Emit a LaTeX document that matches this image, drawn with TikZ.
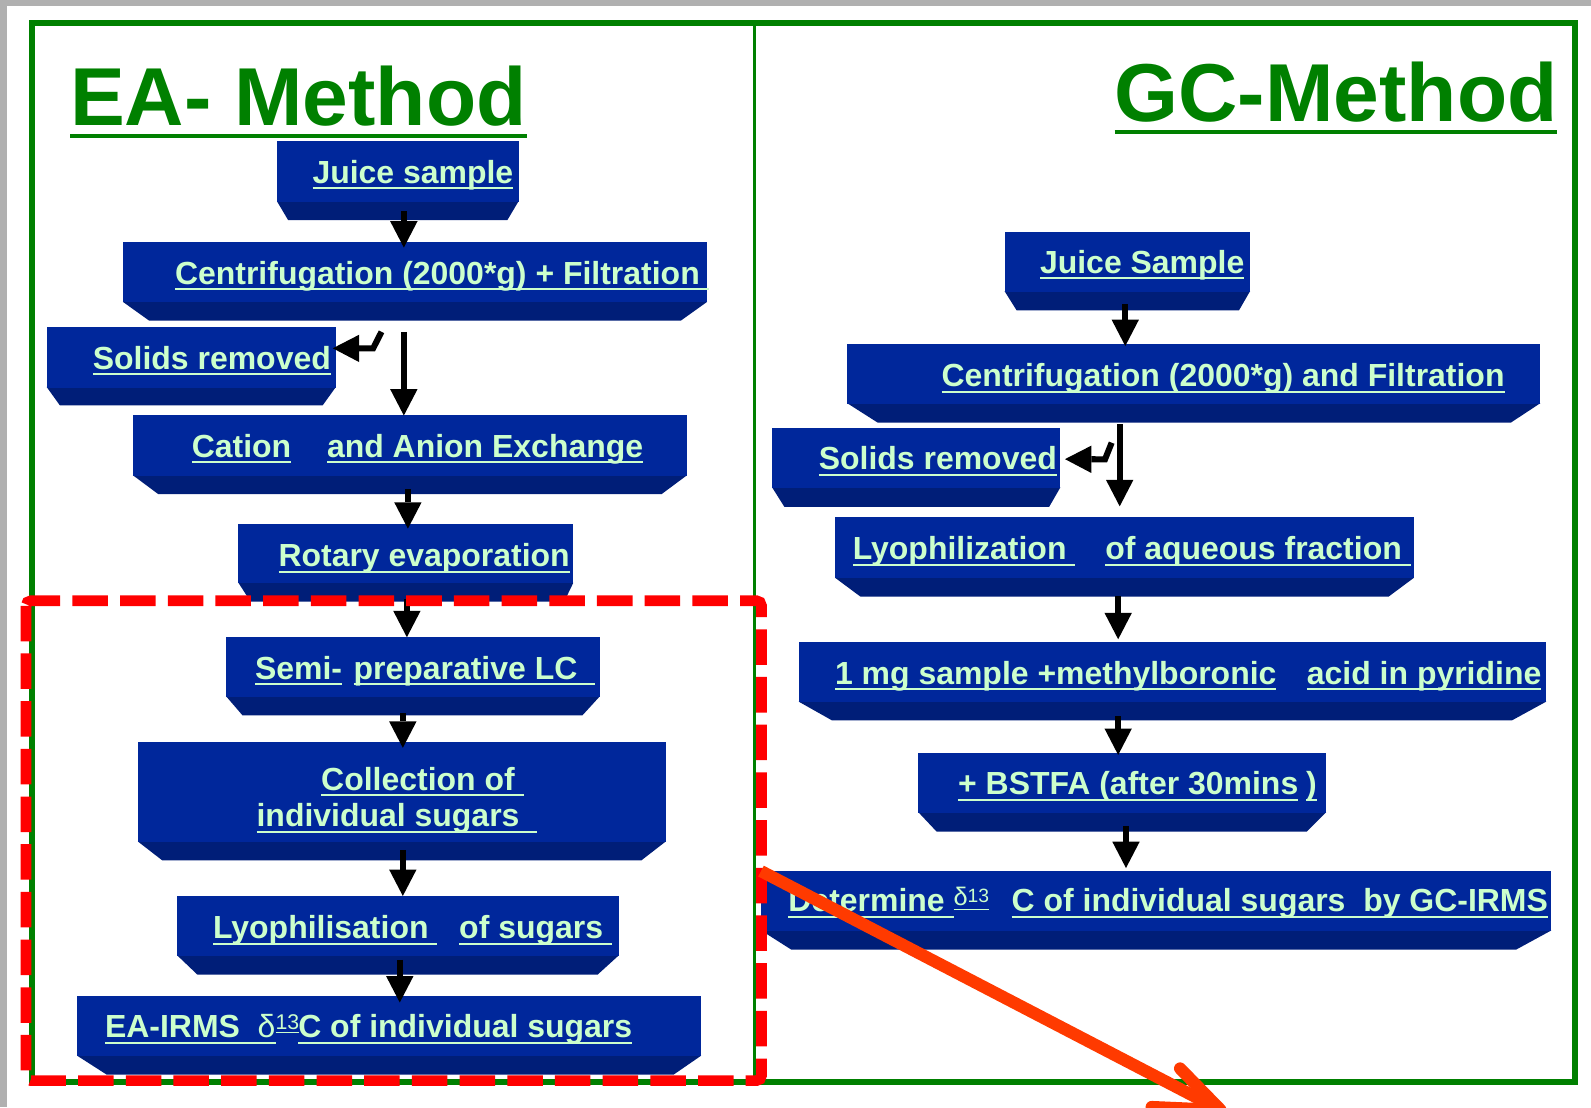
\documentclass[tikz,border=0pt]{standalone}
\usepackage{fontspec}
\setmainfont{Liberation Sans}
\usetikzlibrary{arrows.meta}
\definecolor{frontc}{RGB}{0,39,155}
\definecolor{bevelc}{RGB}{0,30,120}
\definecolor{mint}{RGB}{204,255,204}
\definecolor{frameg}{RGB}{0,128,0}
\definecolor{hlred}{RGB}{255,0,0}
\definecolor{arrred}{RGB}{255,58,0}
\definecolor{stripg}{RGB}{176,176,176}
\newcommand\myul[1]{\setbox0=\hbox{#1}\rlap{\rule[-0.187em]{\wd0}{0.063em}}\box0}
\newcommand\mytl[1]{\setbox0=\hbox{#1}\rlap{\rule[-0.145em]{\wd0}{0.05em}}\box0}
\newcommand\myseg[2]{\makebox[#1][l]{#2}}
\newcommand\myslab[8]{%
  \fill[bevelc] (#2,#5-0.6) -- (#4,#5-0.6) -- (#4-#7,#5+#8) -- (#2+#6,#5+#8) -- cycle;
  \node[frontbox, minimum width=#4pt-#2pt, minimum height=#5pt-#3pt, anchor=north west] (#1) at (#2,#3) {};
}
\begin{document}
\begin{tikzpicture}[x=1pt,y=-1pt,
  frontbox/.style={fill=frontc, inner sep=0pt, outer sep=0pt, draw=none},
  btext/.style={anchor=base west, inner sep=0pt, outer sep=0pt, text=mint, font=\fontsize{31.5}{36}\selectfont\bfseries},
  ttext/.style={anchor=base west, inner sep=0pt, outer sep=0pt, text=frameg, font=\fontsize{81}{90}\selectfont\bfseries},
  flow/.style={draw=black, line width=6pt, -{Triangle[width=27pt,length=26pt,line width=0pt]}},
  hilite/.style={draw=hlred, line width=10.5pt, dash pattern=on 35pt off 12pt, rounded corners=5pt},
  pointer/.style={draw=arrred, line width=12pt},
]
\useasboundingbox (0,0) rectangle (1568,1091);
\clip (0,0) rectangle (1568,1091);
\fill[white] (0,0) rectangle (1568,1091);
\fill[stripg] (0,0) rectangle (1568,6);
\fill[stripg] (0,0) rectangle (7,1091);
\draw[frameg, line width=5.5pt] (31.5,22.7) rectangle (1552,1066.5);
\draw[frameg, line width=2.5pt] (743.5,22.7) -- (743.5,1066.5);

% titles
\node[ttext] (eatitle) at (69,124) {\mytl{EA- Method}};
\node[ttext] (gctitle) at (1098.5,120) {\mytl{GC-Method}};

% left boxes
\myslab{la}{273}{139}{511}{199}{11}{11}{18}
\myslab{lb}{121}{238.5}{697}{298}{26}{26}{18}
\myslab{lc}{46}{322.5}{331}{382}{13}{13}{17.5}
\myslab{ld}{131}{409}{677}{469}{25}{25}{18}
\myslab{le}{235}{516}{565}{575}{12}{9}{18}
\myslab{lf}{223}{628}{591}{687}{16}{17}{18}
\myslab{lg}{136}{731}{656}{830}{24}{24}{18}
\myslab{lh}{174.5}{883}{610}{942}{20}{21}{18.5}
\myslab{li}{76}{982}{691}{1041}{29}{27}{18}
% right boxes
\myslab{ra}{990}{228.5}{1232}{287.5}{12}{11}{18.5}
\myslab{rb}{835}{339}{1518}{398}{30}{29}{18.5}
\myslab{rc}{761}{422}{1045}{481}{12}{11}{18.5}
\myslab{rd}{823}{510}{1393.5}{570}{25}{25}{18}
\myslab{re}{787}{633}{1524}{692}{33}{34}{18}
\myslab{rf}{905}{742}{1307}{801}{18}{19}{18.5}
\myslab{rg}{750}{858.5}{1529}{917.5}{30}{35}{18.5}

% left texts
\node[btext] (lat) at (308,180.7) {\myul{Juice sample}};
\node[btext] (lbt) at (172.5,280) {\myul{Centrifugation (2000*g) + Filtration\ }};
\node[btext] (lct) at (91.5,363.7) {\myul{Solids removed}};
\node[btext] (ldt) at (189,450.7) {\myseg{133.3pt}{\myul{Cation}}\myul{and Anion Exchange}};
\node[btext] (let) at (274.5,558.5) {\myul{Rotary evaporation}};
\node[btext] (lft) at (251.4,669.5) {\myseg{97.1pt}{\myul{Semi-}}\myul{preparative LC\ \ }};
\node[btext] (lgta) at (316.6,778.6) {\myul{Collection of\ }};
\node[btext] (lgtb) at (252.9,815) {\myul{individual sugars\ \ }};
\node[btext] (lht) at (210,925.4) {\myseg{242.6pt}{\myul{Lyophilisation\ }}\myul{of sugars\ }};
\node[btext] (lit) at (103.5,1022.7) {\myseg{190.5pt}{\myul{EA-IRMS\ \ }\myul{\mdseries δ}\raisebox{8.5pt}{\fontsize{21}{21}\selectfont\mdseries\myul{13}}}\myul{C of individual sugars}};

% right texts
\node[btext] (rat) at (1025,269.4) {\myul{Juice Sample}};
\node[btext] (rbt) at (928,381) {\myul{Centrifugation (2000*g) and Filtration}};
\node[btext] (rct) at (807,463.2) {\myul{Solids removed}};
\node[btext] (rdt) at (840.5,551.9) {\myseg{248.8pt}{\myul{Lyophilization\ }}\myul{of aqueous fraction\ }};
\node[btext] (ret) at (823,674.4) {\myseg{465pt}{\myul{1 mg sample +methylboronic}}\myul{acid in pyridine}};
\node[btext] (rft) at (944.3,783.5) {\myseg{343pt}{\myul{+ BSTFA (after 30mins}}\myul{)}};
\node[btext] (rgt) at (777,898.5) {\myseg{220pt}{\myul{Determine\ }\raisebox{6pt}{\fontsize{25}{25}\selectfont\mdseries\myul{δ\raisebox{3pt}{\fontsize{19}{19}\selectfont 13}}}}\myul{C of individual sugars\ \ by GC-IRMS}};

% left arrows
\draw[flow] ([xshift=6pt,yshift=-9pt]la.south) -- ([xshift=-11pt,yshift=-5.5pt]lb.north);
\draw[flow] ([xshift=-11pt,yshift=-29pt]lb.south) -- ([xshift=-6pt,yshift=-0.5pt]ld.north);
\draw[flow] ([xshift=-33pt,yshift=-29pt]lb.south) -- ++(-8.3,16.4) -- ([xshift=-3pt,yshift=9pt]lc.east);
\draw[flow] ([xshift=-2pt,yshift=-13pt]ld.south) -- ([xshift=2pt,yshift=-5pt]le.north);
\draw[flow] ([xshift=1pt,yshift=-15pt]le.south) -- ([xshift=-6pt]lf.north);
\draw[flow] ([xshift=-10pt,yshift=-16pt]lf.south) -- ([xshift=1pt,yshift=-6pt]lg.north);
\draw[flow] ([xshift=1pt,yshift=-8pt]lg.south) -- ([xshift=4.75pt]lh.north);
\draw[flow] ([xshift=1.75pt,yshift=-4pt]lh.south) -- ([xshift=10.5pt,yshift=-6pt]li.north);

% right arrows
\draw[flow] ([xshift=-2pt,yshift=-12pt]ra.south) -- ([xshift=-67.5pt,yshift=-2pt]rb.north);
\draw[flow] ([xshift=-73pt,yshift=-20pt]rb.south) -- ([xshift=-4.75pt,yshift=11pt]rd.north);
\draw[flow] ([xshift=-80.9pt,yshift=-38.3pt]rb.south) -- ++(-6.6,16.4) -- ([xshift=4.6pt,yshift=-1pt]rc.east);
\draw[flow] ([xshift=-6.25pt,yshift=-17.5pt]rd.south) -- ([xshift=-53.5pt,yshift=3pt]re.north);
\draw[flow] ([xshift=-53.5pt,yshift=-14pt]re.south) -- ([xshift=-4pt,yshift=-2pt]rf.north);
\draw[flow] ([xshift=3.7pt,yshift=-13pt]rf.south) -- ([xshift=-29.8pt,yshift=3pt]rg.north);

% highlight
\draw[hilite] (25.6,592) rectangle (750.5,1065);

% pointer arrow
\coordinate (rtip) at (1203,1094);
\coordinate (rarma) at (1163,1053);
\coordinate (rarmb) at (1135,1091);
\draw[pointer] (rg.north west) -- (rtip);
\draw[pointer, line cap=round, line join=round] (rarma) -- (rtip) -- (rarmb);
\end{tikzpicture}
\end{document}
